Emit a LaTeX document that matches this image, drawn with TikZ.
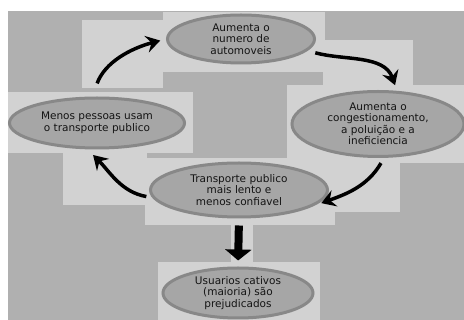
\documentclass[tikz,border=0pt]{standalone}
\usepackage{fontspec}
\setmainfont{DejaVu Sans}
\usepackage{tikz}
\usetikzlibrary{shapes.geometric,arrows.meta}
\definecolor{PageGrey}{HTML}{B0B0B0}
\definecolor{PatchGrey}{HTML}{D2D2D2}
\definecolor{BubbleGrey}{HTML}{A6A6A6}
\definecolor{RimGrey}{HTML}{888888}
\definecolor{InkGrey}{HTML}{141414}

\begin{document}
\begin{tikzpicture}[
      x=1pt, y=-1pt,
      every node/.style={align=center},
      bubble/.style={ellipse, draw=RimGrey, line width=3pt, fill=BubbleGrey, inner sep=0pt,
        text=InkGrey, font=\fontsize{10.5}{11.5}\selectfont},
      patch/.style={fill=PatchGrey},
      arrow/.style={line width=3.5pt, black, -{Stealth[length=14pt,width=17pt,inset=5pt]}},
      bigarrow/.style={line width=8pt, black, -{Triangle[length=11pt,width=26pt]}}
    ]
      \useasboundingbox (0,0) rectangle (464,320);
      \fill[white] (0,0) rectangle (464,320);
      \fill[PageGrey] (8,11) rectangle (464,320);

      % light patches
      \fill[patch] (163,12) rectangle (325,72);
      \fill[patch] (287,85) rectangle (464,163);
      \fill[patch] (8,92) rectangle (193,153);
      \fill[patch] (145,158) rectangle (335,225);
      \fill[patch] (158,262) rectangle (320,320);
      \fill[patch] (82,20) rectangle (163,88);
      \fill[patch] (323,40) rectangle (413,87);
      \fill[patch] (335,160) rectangle (400,212);
      \fill[patch] (63,153) rectangle (147,205);
      \fill[patch] (231,223) rectangle (253,263);

      \node[bubble, minimum width=147pt, minimum height=48pt] (cars) at (241,39)
        {Aumenta o\\numero de\\automoveis};
      \node[bubble, minimum width=172pt, minimum height=65pt] (jam) at (378,124)
        {Aumenta o\\congestionamento,\\a poluição e a\\ineficiencia};
      \node[bubble, minimum width=175pt, minimum height=50pt] (fewer) at (97,123)
        {Menos pessoas usam\\o transporte publico};
      \node[bubble, minimum width=177pt, minimum height=54pt] (slow) at (239,190)
        {Transporte publico\\mais lento e\\menos confiavel};
      \node[bubble, minimum width=150pt, minimum height=50pt] (users) at (238,293)
        {Usuarios cativos\\(maioria) são\\prejudicados};

      \draw[arrow, shorten <=14pt, shorten >=6pt] (fewer.100) to[out=70,in=195] (cars.west);
      \draw[arrow, shorten <=8pt, shorten >=6pt] (cars.-10) to[out=-15,in=110] (jam.60);
      \draw[arrow, shorten <=6pt, shorten >=8pt] (jam.-80) to[out=-120,in=20] (slow.-12);
      \draw[arrow, shorten <=6pt, shorten >=8pt] (slow.185) to[out=170,in=-45] (fewer.-110);
      \draw[bigarrow, shorten <=7pt, shorten >=6pt] (slow.south) -- (users.north);

    \end{tikzpicture}
\end{document}
